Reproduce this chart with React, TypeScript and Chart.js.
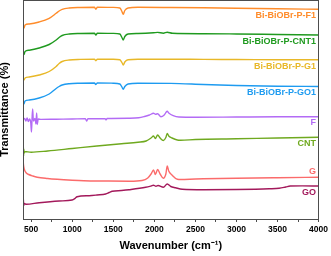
import { useEffect, useRef } from "react";
import { Chart, registerables } from "chart.js";

Chart.register(...registerables);

type Pt = [number, number];

// FTIR spectra, stacked with vertical offsets (arbitrary transmittance units)
const seriesNames = [
  "Bi-BiOBr-P-F1",
  "Bi-BiOBr-P-CNT1",
  "Bi-BiOBr-P-G1",
  "Bi-BiOBr-P-GO1",
  "F",
  "CNT",
  "G",
  "GO",
];

const seriesColors = [
  "#ff8c2a",
  "#1f9a1f",
  "#e8b828",
  "#1e9bf0",
  "#b36bf5",
  "#6fa91f",
  "#fb6b6b",
  "#a3195b",
];

// Series whose name sits above the trace at the right edge
const labelAbove = ["G"];

const specF1: Pt[] = [
  [400, 193.5], [412, 191], [425, 194], [476, 195], [597, 197], [719, 200.7],
  [804, 205.7], [840, 208], [877, 209.7], [962, 211], [1100, 211.5], [1270, 211.7],
  [1288, 209.8], [1305, 211.7], [1500, 211.6], [1580, 211], [1605, 207.5],
  [1621, 204.7], [1640, 208.5], [1680, 211], [1800, 211.7], [2200, 211.5],
  [2600, 211.2], [3000, 210.8], [3500, 210.2], [4000, 209.7],
];

const specCNT1: Pt[] = [
  [400, 166.8], [412, 164.5], [425, 167.5], [476, 168.8], [597, 171], [719, 174.5],
  [804, 179], [840, 181.5], [877, 183.5], [962, 185], [1100, 185.5], [1270, 185.7],
  [1288, 184], [1305, 185.7], [1500, 185.6], [1580, 185], [1605, 181.5],
  [1621, 179], [1640, 182.5], [1680, 185], [1800, 185.5], [1990, 186.2],
  [2040, 186.6], [2110, 185.8], [2157, 186.8], [2220, 185.7], [2600, 185.3],
  [3000, 185], [3500, 184.5], [4000, 184],
];

const specG1: Pt[] = [
  [400, 140.5], [412, 139], [425, 141], [476, 142], [597, 144], [719, 147.5],
  [804, 152.5], [840, 155.5], [877, 157.5], [962, 159], [1100, 159.6], [1270, 159.8],
  [1288, 158.3], [1305, 159.8], [1500, 159.8], [1580, 159.2], [1605, 156.5],
  [1621, 154], [1640, 157], [1680, 159.3], [1800, 159.8], [2200, 159.8],
  [2600, 159.6], [3000, 159.5], [3500, 159.3], [4000, 159.2],
];

const specGO1: Pt[] = [
  [400, 117.5], [410, 115], [425, 118], [476, 119], [597, 121], [719, 125],
  [804, 130.5], [840, 132.5], [877, 134], [962, 135.3], [1100, 135.8], [1270, 136],
  [1288, 134.5], [1305, 136], [1500, 135.8], [1580, 135], [1605, 132],
  [1621, 129.7], [1640, 132.5], [1680, 135], [1800, 135.8], [2200, 135.6],
  [2600, 134.5], [3000, 133.5], [3500, 132.8], [4000, 132.5],
];

const specF: Pt[] = [
  [400, 99.5], [420, 100.5], [435, 98], [450, 101], [465, 97.5], [480, 100],
  [495, 96], [503, 87], [510, 100], [518, 110], [526, 98], [545, 100.5],
  [558, 95], [566, 106], [574, 94.5], [585, 100], [620, 99.6], [800, 99.8],
  [1000, 100], [1160, 100.2], [1177, 98], [1190, 100.2], [1400, 100.4],
  [1411, 99], [1425, 100.5], [1700, 100.8], [1810, 101.2], [1880, 102.5],
  [1940, 104], [1990, 105.7], [2015, 104.8], [2040, 105.2], [2080, 102.3],
  [2120, 104], [2156, 107.8], [2175, 106], [2230, 103.3], [2300, 102],
  [2500, 101.8], [3000, 102], [3500, 102.2], [4000, 102.3],
];

const specCNT: Pt[] = [
  [400, 68], [404, 74], [407, 63], [410, 70], [414, 66], [420, 67.5], [500, 66.8],
  [700, 68], [1000, 70.5], [1300, 73], [1600, 75.3], [1800, 76.8], [1900, 78],
  [1960, 81], [1990, 83], [2012, 80.5], [2040, 84], [2070, 81], [2110, 78.5],
  [2140, 81.5], [2157, 85.5], [2175, 83], [2215, 81], [2280, 79], [2320, 78.8],
  [2500, 79.5], [3000, 80.2], [3500, 81], [4000, 81.7],
];

const specG: Pt[] = [
  [400, 62], [405, 55], [415, 50], [440, 46], [470, 44.5], [520, 43], [573, 41.8],
  [700, 40.5], [816, 39.7], [1000, 38.8], [1140, 38.3], [1400, 38], [1700, 37.8],
  [1850, 38.5], [1920, 41], [1960, 45], [1990, 49], [2012, 44.5], [2040, 49.5],
  [2070, 45], [2110, 40.7], [2140, 45], [2157, 53], [2175, 48], [2215, 44],
  [2280, 39.7], [2320, 39.5], [2500, 40], [2600, 40.2], [3000, 40.8],
  [3500, 41.3], [4000, 41.7],
];

const specGO: Pt[] = [
  [400, 15], [404, 21], [408, 13.5], [415, 15.5], [439, 14.7], [597, 16.3],
  [840, 18], [998, 19], [1035, 20.7], [1059, 22.3], [1205, 23.3], [1302, 24],
  [1407, 25], [1450, 26.5], [1488, 27.7], [1600, 28.5], [1691, 29.3],
  [1894, 31.7], [1960, 33], [1990, 33.7], [2020, 32.8], [2045, 33.5],
  [2110, 31.8], [2157, 35], [2200, 32.5], [2258, 31.2], [2340, 29.7],
  [2600, 29.3], [3000, 29.5], [3400, 30.2], [3520, 30.7], [3600, 32],
  [3655, 33], [3800, 33.1], [4000, 33],
];

const spectra: Pt[][] = [specF1, specCNT1, specG1, specGO1, specF, specCNT, specG, specGO];

// Axis ticks every 250 cm-1, labelled every 500 cm-1
const xTickValues = [
  500, 750, 1000, 1250, 1500, 1750, 2000, 2250, 2500, 2750, 3000, 3250, 3500, 3750, 4000,
];
const xLabelledTicks = [500, 1000, 1500, 2000, 2500, 3000, 3500, 4000];

const FONT = "'Liberation Sans', Arial, Helvetica, sans-serif";
const FRAME = "#4d4d4d";

const framePlugin = {
  id: "frameAndNames",
  afterDatasetsDraw(chart: any) {
    const { ctx, chartArea } = chart;
    const { left, top, right, bottom } = chartArea;
    ctx.save();
    // spectrum names at the right end of each trace
    ctx.font = `bold 9px ${FONT}`;
    ctx.textAlign = "right";
    ctx.textBaseline = "middle";
    chart.data.datasets.forEach((ds: any, i: number) => {
      const meta = chart.getDatasetMeta(i);
      const last = meta.data[meta.data.length - 1];
      if (!last) return;
      const above = labelAbove.includes(ds.label);
      const y = last.y + (above ? -6 : 6.3);
      ctx.fillStyle = ds.borderColor;
      ctx.fillText(ds.label, right - 2.5, y);
    });
    // box frame
    ctx.strokeStyle = FRAME;
    ctx.lineWidth = 1;
    const l = Math.floor(left) + 0.5;
    const t = Math.floor(top) + 0.5;
    const r = Math.floor(right) + 0.5;
    const b = Math.floor(bottom) + 0.5;
    ctx.strokeRect(l, t, r - l, b - t);
    ctx.restore();
  },
};

export default function App() {
  const canvasRef = useRef<HTMLCanvasElement | null>(null);

  useEffect(() => {
    if (!canvasRef.current) return;
    const chart = new Chart(canvasRef.current, {
      type: "line",
      data: {
        datasets: spectra.map((pts, i) => ({
          label: seriesNames[i],
          data: pts.map(([x, y]) => ({ x, y })),
          borderColor: seriesColors[i],
          backgroundColor: seriesColors[i],
          borderWidth: 1.4,
          pointRadius: 0,
          cubicInterpolationMode: "monotone" as const,
          fill: false,
        })),
      },
      options: {
        responsive: false,
        animation: false,
        layout: { padding: { top: 0, right: 11, left: 0, bottom: 0 } },
        plugins: {
          legend: { display: false },
          tooltip: { enabled: false },
        },
        scales: {
          x: {
            type: "linear",
            min: 400,
            max: 4000,
            afterBuildTicks: (scale: any) => {
              scale.ticks = xTickValues.map((v) => ({ value: v }));
            },
            afterFit: (scale: any) => {
              scale.height = 37;
            },
            grid: {
              display: true,
              drawOnChartArea: false,
              drawTicks: true,
              tickLength: 3,
              color: FRAME,
            },
            border: { display: false },
            ticks: {
              autoSkip: false,
              maxRotation: 0,
              padding: 3,
              color: "#000",
              font: { family: FONT, size: 8.5, weight: "bold" },
              callback: (v: any) => (xLabelledTicks.includes(Number(v)) ? String(v) : ""),
            },
            title: {
              display: true,
              text: "Wavenumber (cm\u207B\u00B9)",
              color: "#000",
              font: { family: FONT, size: 11, weight: "bold" },
              padding: { top: 0, bottom: 3.5 },
            },
          },
          y: {
            type: "linear",
            min: 0,
            max: 219,
            afterFit: (scale: any) => {
              scale.width = 23;
            },
            grid: { display: false },
            border: { display: false },
            ticks: { display: false },
            title: {
              display: true,
              text: "Transmittance (%)",
              color: "#000",
              font: { family: FONT, size: 11, weight: "bold" },
              padding: { top: -2.1, bottom: 0 },
            },
          },
        },
      },
      plugins: [framePlugin],
    });
    return () => chart.destroy();
  }, []);

  return (
    <div style={{ position: "fixed", left: 0, top: 0, width: 331, height: 256, background: "#fff" }}>
      <canvas ref={canvasRef} width={331} height={256} />
    </div>
  );
}
